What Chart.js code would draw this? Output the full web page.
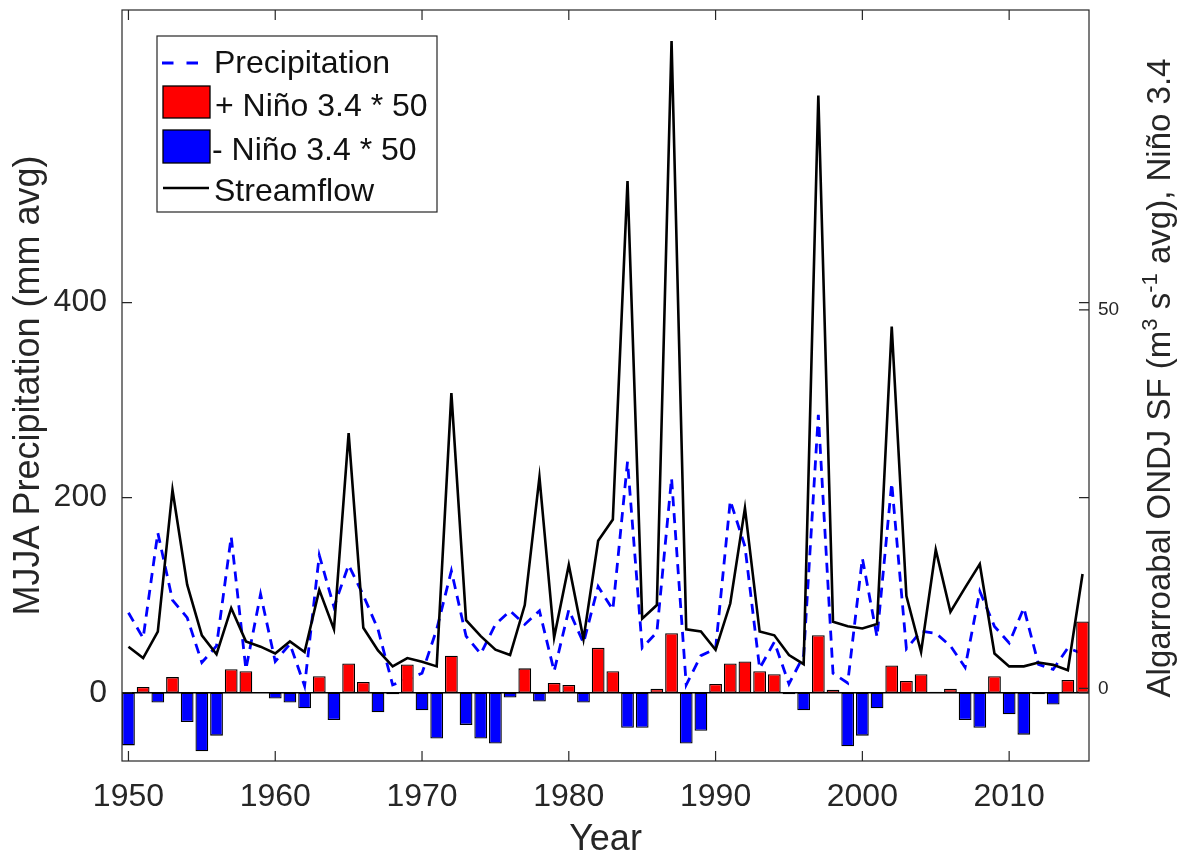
<!DOCTYPE html>
<html>
<head>
<meta charset="utf-8">
<script src="https://cdn.jsdelivr.net/npm/chart.js@4.4.0/dist/chart.umd.min.js"></script>
<style>
  html, body { margin: 0; padding: 0; background: #fff; }
  canvas { display: block; }
</style>
</head>
<body>
<canvas id="myChart" width="1181" height="861"></canvas>
<script>
let years = Array.from({length: 66}, (v, i) => 1950 + i);

// MJJA precipitation (mm avg), left axis
let precipitation = [
  82, 56, 164, 95, 77, 31, 48, 160, 24, 101,
  32, 50, 7, 141, 88, 131, 100, 65, 8, 14,
  20, 65, 125, 58, 40, 70, 84, 70, 84, 22,
  85, 51, 109, 85, 237, 46, 62, 220, 8, 38,
  45, 197, 150, 25, 52, 9, 38, 285, 20, 10,
  138, 57, 215, 45, 63, 61, 48, 26, 104, 68,
  51, 87, 29, 24, 46, 40
];

// Nino 3.4 * 50, left axis
let nino50 = [
  -54, 6, -10, 16, -30, -60, -44, 24, 22, 0,
  -6, -10, -16, 17, -28, 30, 11, -20, -1.5, 29,
  -18, -47, 38, -33, -47, -52, -5, 25, -9, 10,
  8, -10, 46, 22, -36, -36, 4, 61, -52, -39,
  9, 30, 32, 22, 19, -1.5, -18, 59, 3, -55,
  -44, -16, 28, 12, 19, 1, 4, -28, -36, 17,
  -22, -43, -1.5, -12, 13, 73
];

// Algarroabal ONDJ streamflow (m3/s avg), right axis
let streamflow = [
  5.5, 4.0, 7.5, 26.2, 13.7, 7.0, 4.5, 10.6, 6.2, 5.5,
  4.6, 6.2, 4.8, 13.0, 7.8, 33.7, 8.0, 5.0, 2.9, 4.0,
  3.5, 2.9, 39.0, 9.0, 6.9, 5.1, 4.4, 11.0, 27.9, 6.7,
  16.3, 6.5, 19.5, 22.3, 67.0, 9.2, 11.0, 85.5, 7.8, 7.5,
  5.1, 11.2, 23.8, 7.5, 7.0, 4.4, 3.2, 78.3, 8.8, 8.2,
  7.9, 8.5, 47.8, 12.2, 4.8, 18.3, 10.1, 13.3, 16.4, 4.6,
  2.9, 2.9, 3.4, 3.1, 2.4, 15.1
];

let xTicks = [1950, 1960, 1970, 1980, 1990, 2000, 2010];
let leftTicks = [0, 200, 400];
let rightTicks = [0, 50];

let fontFamily = '"Liberation Sans", Arial, Helvetica, sans-serif';
let axisColor = '#262626';

let toPoints = (vals) => vals.map((v, i) => ({x: years[i], y: v}));
let posNino = nino50.map((v, i) => ({x: years[i], y: v >= 0 ? v : null}));
let negNino = nino50.map((v, i) => ({x: years[i], y: v < 0 ? v : null}));

let noPad = s => { s.paddingTop = 0; s.paddingBottom = 0; s.paddingLeft = 0; s.paddingRight = 0; };

// box, inward ticks, bar baseline, legend and right axis title
let framePlugin = {
  id: 'frame',
  beforeDatasetsDraw(chart) {
    let {ctx, chartArea: a, scales} = chart;
    let y0 = scales.y.getPixelForValue(0);
    ctx.save();
    ctx.strokeStyle = '#000';
    ctx.lineWidth = 1.3;
    ctx.beginPath();
    ctx.moveTo(a.left, y0);
    ctx.lineTo(a.right, y0);
    ctx.stroke();
    ctx.restore();
  },
  afterDatasetsDraw(chart) {
    let {ctx, chartArea: a, scales} = chart;
    let len = 10;
    ctx.save();
    ctx.strokeStyle = axisColor;
    ctx.lineWidth = 1.2;
    ctx.strokeRect(a.left, a.top, a.right - a.left, a.bottom - a.top);
    ctx.beginPath();
    xTicks.forEach(v => {
      let px = scales.x.getPixelForValue(v);
      ctx.moveTo(px, a.bottom); ctx.lineTo(px, a.bottom - len);
      ctx.moveTo(px, a.top); ctx.lineTo(px, a.top + len);
    });
    leftTicks.forEach(v => {
      let py = scales.y.getPixelForValue(v);
      ctx.moveTo(a.left, py); ctx.lineTo(a.left + len, py);
      ctx.moveTo(a.right, py); ctx.lineTo(a.right - len, py);
    });
    rightTicks.forEach(v => {
      let py = scales.y2.getPixelForValue(v);
      ctx.moveTo(a.right, py); ctx.lineTo(a.right - len, py);
    });
    ctx.stroke();
    ctx.restore();
  },
  afterDraw(chart) {
    let ctx = chart.ctx;
    let ds = chart.data.datasets;

    // legend
    ctx.save();
    ctx.fillStyle = '#fff';
    ctx.fillRect(157, 36, 280, 176);
    ctx.strokeStyle = axisColor;
    ctx.lineWidth = 1.2;
    ctx.strokeRect(157, 36, 280, 176);

    ctx.strokeStyle = ds[0].borderColor;
    ctx.lineWidth = 2.8;
    ctx.setLineDash([11.5, 13]);
    ctx.beginPath(); ctx.moveTo(162, 63); ctx.lineTo(199, 63); ctx.stroke();
    ctx.setLineDash([]);

    ctx.lineWidth = 1.3;
    ctx.strokeStyle = '#000';
    ctx.fillStyle = ds[1].backgroundColor;
    ctx.fillRect(163, 86, 47, 32); ctx.strokeRect(163, 86, 47, 32);
    ctx.fillStyle = ds[2].backgroundColor;
    ctx.fillRect(163, 130, 47, 33); ctx.strokeRect(163, 130, 47, 33);

    ctx.strokeStyle = ds[3].borderColor;
    ctx.lineWidth = 2.6;
    ctx.beginPath(); ctx.moveTo(163, 188); ctx.lineTo(209, 188); ctx.stroke();

    ctx.fillStyle = '#111';
    ctx.font = '32px ' + fontFamily;
    ctx.textBaseline = 'alphabetic';
    ctx.textAlign = 'left';
    ctx.fillText(ds[0].label, 214, 73);
    ctx.fillText(ds[1].label, 215, 116);
    ctx.fillText(ds[2].label, 212, 160);
    ctx.fillText(ds[3].label, 214, 201);
    ctx.restore();

    // right axis title with superscripts, reading bottom to top
    let parts = [
      ['Algarroabal ONDJ SF (m', false],
      ['3', true],
      [' s', false],
      ['-1', true],
      [' avg), Niño 3.4', false]
    ];
    let big = '33px ' + fontFamily, small = '22px ' + fontFamily;
    ctx.save();
    ctx.translate(1170, 378);
    ctx.rotate(-Math.PI / 2);
    ctx.fillStyle = axisColor;
    ctx.textBaseline = 'alphabetic';
    ctx.textAlign = 'left';
    let total = 0;
    parts.forEach(p => { ctx.font = p[1] ? small : big; total += ctx.measureText(p[0]).width; });
    let x = -total / 2;
    parts.forEach(p => {
      ctx.font = p[1] ? small : big;
      ctx.fillText(p[0], x, p[1] ? -13 : 0);
      x += ctx.measureText(p[0]).width;
    });
    ctx.restore();
  }
};

new Chart(document.getElementById('myChart'), {
  type: 'bar',
  data: {
    datasets: [
      {
        type: 'line',
        label: 'Precipitation',
        data: toPoints(precipitation),
        yAxisID: 'y',
        borderColor: '#0000ff',
        borderWidth: 2.8,
        borderDash: [10, 7],
        pointRadius: 0,
        tension: 0,
        fill: false,
        order: 3
      },
      {
        type: 'bar',
        label: '+ Niño 3.4 * 50',
        data: posNino,
        yAxisID: 'y',
        backgroundColor: '#ff0000',
        borderColor: '#000',
        borderWidth: 1.3,
        borderSkipped: false,
        grouped: false,
        barPercentage: 0.87,
        categoryPercentage: 1,
        order: 2
      },
      {
        type: 'bar',
        label: '- Niño 3.4 * 50',
        data: negNino,
        yAxisID: 'y',
        backgroundColor: '#0000ff',
        borderColor: '#000',
        borderWidth: 1.3,
        borderSkipped: false,
        grouped: false,
        barPercentage: 0.87,
        categoryPercentage: 1,
        order: 2
      },
      {
        type: 'line',
        label: 'Streamflow',
        data: toPoints(streamflow),
        yAxisID: 'y2',
        borderColor: '#000000',
        borderWidth: 2.6,
        pointRadius: 0,
        tension: 0,
        fill: false,
        order: 1
      }
    ]
  },
  options: {
    responsive: false,
    animation: false,
    devicePixelRatio: 1,
    layout: { padding: { top: 10, left: 0, right: 0, bottom: 0 } },
    plugins: {
      legend: { display: false },
      tooltip: { enabled: false }
    },
    scales: {
      x: {
        type: 'linear',
        position: 'bottom',
        min: 1949.56,
        max: 2015.44,
        offset: false,
        grid: { display: false, drawTicks: false },
        border: { display: false },
        afterBuildTicks: s => { s.ticks = xTicks.map(v => ({value: v})); },
        afterFit: s => { s.height = 100; noPad(s); },
        ticks: {
          font: { family: fontFamily, size: 32 },
          color: axisColor,
          padding: 17,
          maxRotation: 0,
          autoSkip: false,
          callback: v => String(v)
        },
        title: {
          display: true,
          text: 'Year',
          color: axisColor,
          font: { family: fontFamily, size: 36, lineHeight: 1.15 },
          padding: { top: 0, bottom: 0 }
        }
      },
      y: {
        type: 'linear',
        position: 'left',
        min: -70,
        max: 700,
        grid: { display: false, drawTicks: false },
        border: { display: false },
        afterBuildTicks: s => { s.ticks = leftTicks.map(v => ({value: v})); },
        afterFit: s => { s.width = 122; noPad(s); },
        ticks: {
          font: { family: fontFamily, size: 32 },
          color: axisColor,
          padding: 15,
          callback: v => String(v)
        },
        title: {
          display: true,
          text: 'MJJA Precipitation (mm avg)',
          color: axisColor,
          font: { family: fontFamily, size: 36, lineHeight: 1.2 },
          padding: { top: 7, bottom: 0 }
        }
      },
      y2: {
        type: 'linear',
        position: 'right',
        min: -9.6,
        max: 89.6,
        grid: { display: false, drawTicks: false },
        border: { display: false },
        afterBuildTicks: s => { s.ticks = rightTicks.map(v => ({value: v})); },
        afterFit: s => { s.width = 92; noPad(s); },
        ticks: {
          font: { family: fontFamily, size: 19 },
          color: axisColor,
          padding: 9,
          callback: v => String(v)
        }
      }
    }
  },
  plugins: [framePlugin]
});
</script>
</body>
</html>
